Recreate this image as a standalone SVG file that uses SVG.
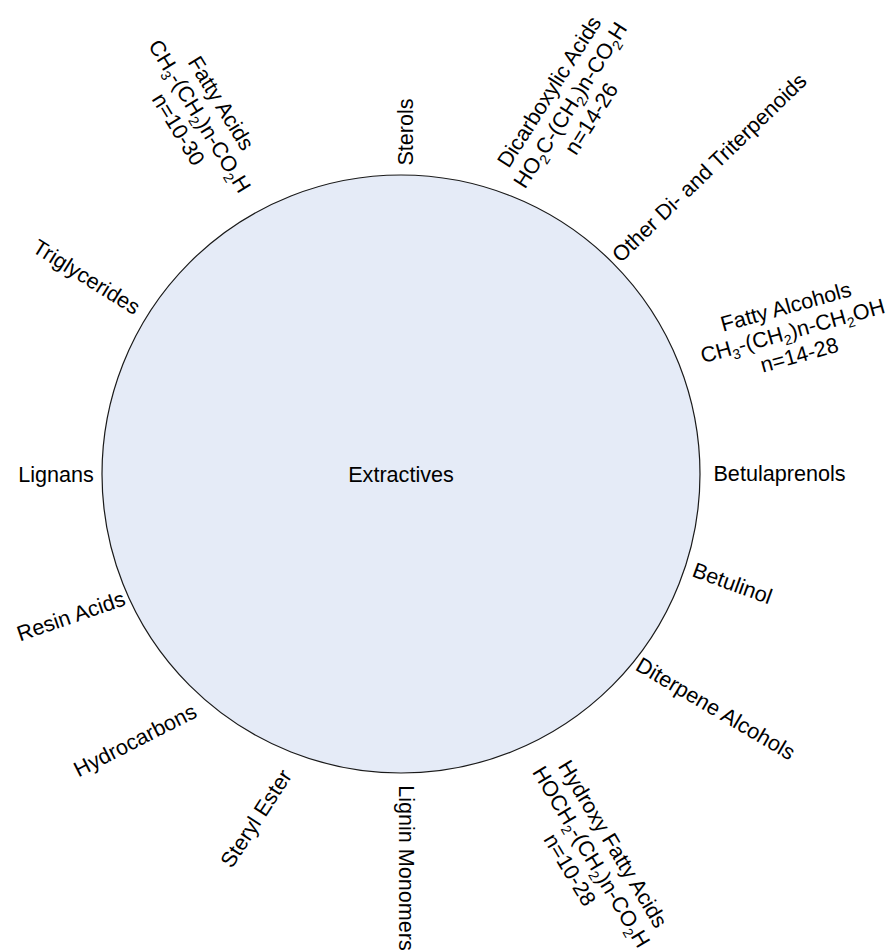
<svg xmlns="http://www.w3.org/2000/svg" width="888" height="950" viewBox="0 0 888 950">
  <style>
    text { font-family: "Liberation Sans", Arial, sans-serif; font-size: 21.6px; fill: #000; text-anchor: middle; }
    .sub { font-size: 14px; }
    .hub { fill: #e5ebf7; stroke: #1a1a1a; stroke-width: 1.2; }
  </style>
  <rect width="888" height="950" fill="#ffffff"/>

  <!-- central node -->
  <g id="extractives">
    <circle class="hub" cx="401" cy="474" r="299"/>
    <text x="401" y="481.5">Extractives</text>
  </g>

  <!-- no connectors: labels sit directly around the circle -->
  <g id="connectors"/>

  <g id="sterols" transform="translate(405,132) rotate(-90)">
    <text y="7.7">Sterols</text>
  </g>

  <g id="dicarboxylic-acids" transform="translate(570,105) rotate(-57.5)">
    <text y="-17.3">Dicarboxylic Acids</text>
    <text y="7.7">HO<tspan class="sub" dy="5">2</tspan><tspan dy="-5">C-(CH</tspan><tspan class="sub" dy="5">2</tspan><tspan dy="-5">)n-CO</tspan><tspan class="sub" dy="5">2</tspan><tspan dy="-5">H</tspan></text>
    <text y="32.7">n=14-26</text>
  </g>

  <g id="other-terpenoids" transform="translate(709,167.5) rotate(-44)">
    <text y="7.7">Other Di- and Triterpenoids</text>
  </g>

  <g id="fatty-alcohols" transform="translate(792.5,330.5) rotate(-15.5)">
    <text y="-17.3">Fatty Alcohols</text>
    <text y="7.7">CH<tspan class="sub" dy="5">3</tspan><tspan dy="-5">-(CH</tspan><tspan class="sub" dy="5">2</tspan><tspan dy="-5">)n-CH</tspan><tspan class="sub" dy="5">2</tspan><tspan dy="-5">OH</tspan></text>
    <text y="32.7">n=14-28</text>
  </g>

  <g id="betulaprenols" transform="translate(779.5,473)">
    <text y="7.7">Betulaprenols</text>
  </g>

  <g id="betulinol" transform="translate(732.5,583) rotate(20)">
    <text y="7.7">Betulinol</text>
  </g>

  <g id="diterpene-alcohols" transform="translate(715.8,708.3) rotate(30.5)">
    <text y="7.7">Diterpene Alcohols</text>
  </g>

  <g id="hydroxy-fatty-acids" transform="translate(591.7,856.7) rotate(59)">
    <text y="-17.3">Hydroxy Fatty Acids</text>
    <text y="7.7">HOCH<tspan class="sub" dy="5">2</tspan><tspan dy="-5">-(CH</tspan><tspan class="sub" dy="5">2</tspan><tspan dy="-5">)n-CO</tspan><tspan class="sub" dy="5">2</tspan><tspan dy="-5">H</tspan></text>
    <text y="32.7">n=10-28</text>
  </g>

  <g id="lignin-monomers" transform="translate(407,868) rotate(90)">
    <text y="7.7">Lignin Monomers</text>
  </g>

  <g id="steryl-ester" transform="translate(255.8,818.3) rotate(-57)">
    <text y="7.7">Steryl Ester</text>
  </g>

  <g id="hydrocarbons" transform="translate(135,740) rotate(-27)">
    <text y="7.7">Hydrocarbons</text>
  </g>

  <g id="resin-acids" transform="translate(70.8,615.8) rotate(-19)">
    <text y="7.7">Resin Acids</text>
  </g>

  <g id="lignans" transform="translate(56,474)">
    <text y="7.7">Lignans</text>
  </g>

  <g id="triglycerides" transform="translate(86.7,276.7) rotate(32)">
    <text y="7.7">Triglycerides</text>
  </g>

  <g id="fatty-acids" transform="translate(200,116) rotate(58.5)">
    <text y="-17.3">Fatty Acids</text>
    <text y="7.7">CH<tspan class="sub" dy="5">3</tspan><tspan dy="-5">-(CH</tspan><tspan class="sub" dy="5">2</tspan><tspan dy="-5">)n-CO</tspan><tspan class="sub" dy="5">2</tspan><tspan dy="-5">H</tspan></text>
    <text y="32.7">n=10-30</text>
  </g>
</svg>
